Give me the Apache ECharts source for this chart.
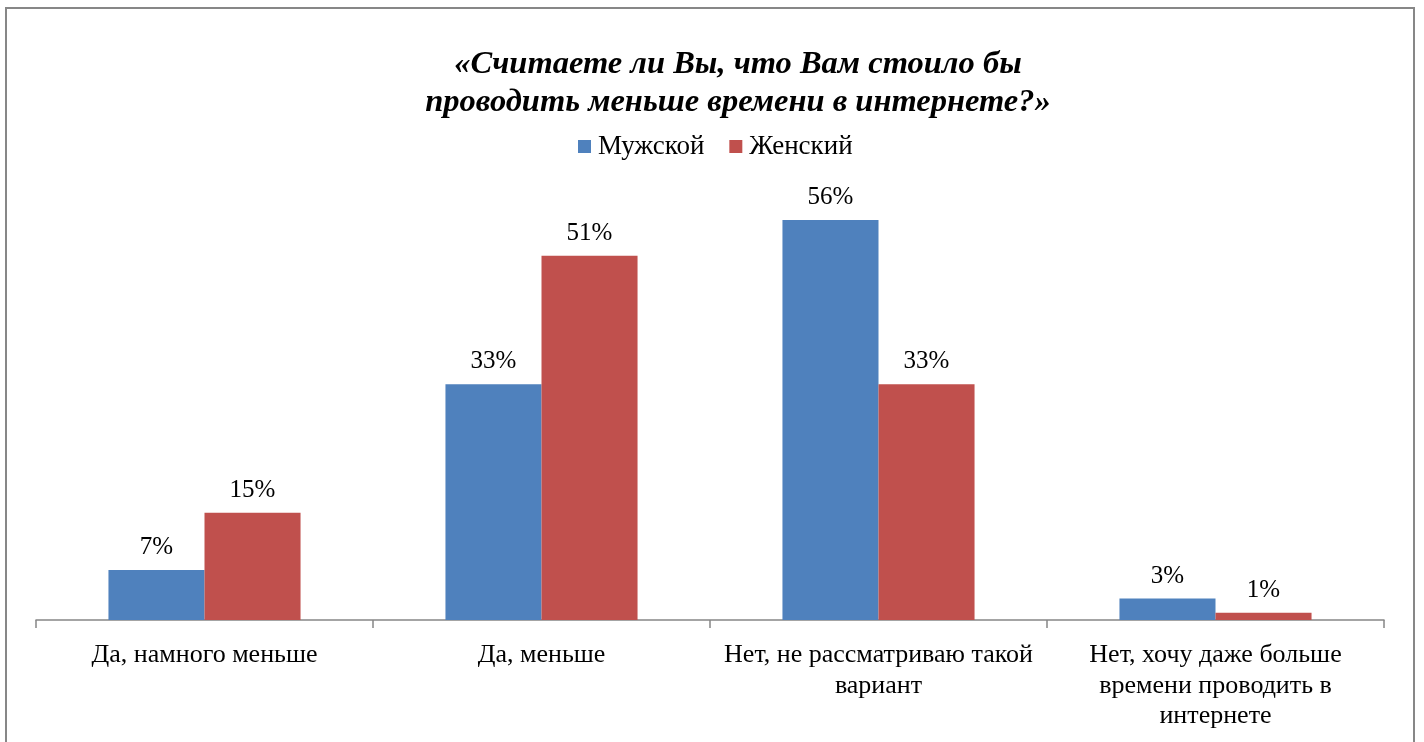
<!DOCTYPE html>
<html><head><meta charset="utf-8">
<script src="https://cdn.jsdelivr.net/npm/echarts@6/dist/echarts.min.js"></script>
<style>html,body{margin:0;padding:0;background:#fff}#c{width:1424px;height:742px}</style>
</head><body><div id="c"></div>
<script>
const categories = ['Да, намного меньше', 'Да, меньше', 'Нет, не рассматриваю такой\nвариант', 'Нет, хочу даже больше\nвремени проводить в\nинтернете'];
const male = [7, 33, 56, 3];
const female = [15, 51, 33, 1];
const seriesNames = ['Мужской', 'Женский'];
const titleLines = '«Считаете ли Вы, что Вам стоило бы\nпроводить меньше времени в интернете?»';

const font = "'Liberation Serif', 'Times New Roman', serif";
const chart = echarts.init(document.getElementById('c'));
const lbl = {show: true, position: 'top', distance: 10, formatter: '{c}%', fontFamily: font, fontSize: 25, color: '#000'};
chart.setOption({
  animation: false,
  title: {text: titleLines, left: 733, textAlign: 'center', top: 41, textStyle: {fontFamily: font, fontSize: 32.5, fontWeight: 'bold', fontStyle: 'italic', color: '#000', lineHeight: 38}},
  legend: {top: 128, left: 573, itemWidth: 13, itemHeight: 13, itemGap: 25, icon: 'rect', textStyle: {fontFamily: font, fontSize: 27, color: '#000', padding: [0, 0, 0, 2]}, data: seriesNames},
  grid: {left: 36, right: 40, top: 191.4, bottom: 122},
  xAxis: {type: 'category', data: categories,
    axisLine: {show: true, lineStyle: {color: '#868686', width: 1.5}},
    axisTick: {show: true, length: 8, lineStyle: {color: '#868686', width: 1.5}},
    axisLabel: {fontFamily: font, fontSize: 26, color: '#000', lineHeight: 30.5, margin: 20, interval: 0}},
  yAxis: {type: 'value', min: 0, max: 60, show: false, splitLine: {show: false}},
  graphic: [{type: 'rect', shape: {x: 6, y: 8, width: 1408, height: 800}, style: {fill: 'none', stroke: '#878787', lineWidth: 2}, silent: true}],
  series: [
    {name: seriesNames[0], type: 'bar', data: male, itemStyle: {color: '#4F81BD'}, barWidth: '28.5%', barGap: '0%', label: lbl},
    {name: seriesNames[1], type: 'bar', data: female, itemStyle: {color: '#C0504D'}, barWidth: '28.5%', barGap: '0%', label: lbl}
  ]
});
</script></body></html>
